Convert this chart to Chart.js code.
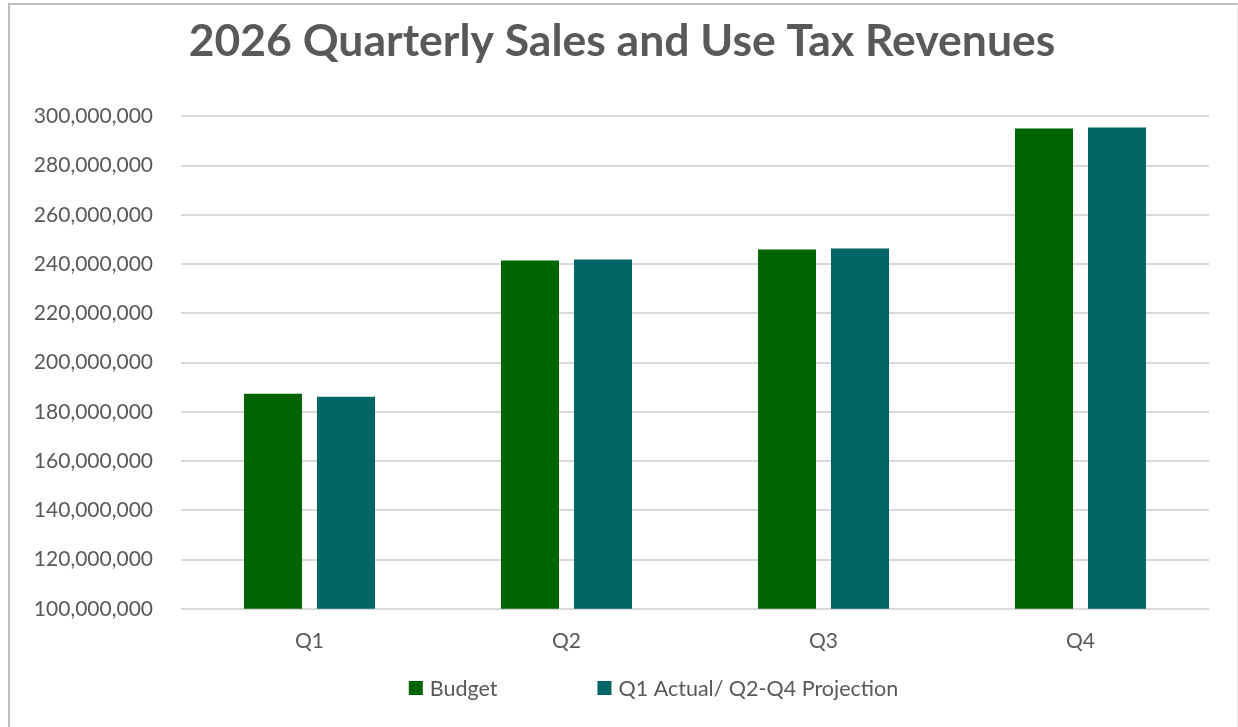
<!DOCTYPE html>
<html lang="en">
  <head>
    <meta charset="UTF-8" />
    <title>2026 Quarterly Sales and Use Tax Revenues</title>
    <script src="https://cdn.jsdelivr.net/npm/chart.js"></script>
    <style>
      body {
        margin: 0;
        background: #ffffff;
        overflow: hidden;
      }

      .chart-box {
        position: absolute;
        left: 8px;
        top: 3px;
        width: 1230px;
        height: 740px;
        border-top: 2px solid #bfbfbf;
        border-left: 2px solid #bfbfbf;
        border-right: 1px solid #ebebeb;
        box-sizing: border-box;
      }

      .chart-container {
        width: 1227px;
        height: 724px;
      }
    </style>
  </head>
  <body>
    <div class="chart-box">
      <div class="chart-container">
        <canvas id="barChart"></canvas>
      </div>
    </div>

    <script>
      const quarters = ["Q1", "Q2", "Q3", "Q4"];
      const budget = [187300000, 241500000, 245900000, 295100000];
      const actualProjection = [186100000, 241900000, 246300000, 295500000];
      const seriesNames = ["Budget", "Q1 Actual/ Q2-Q4 Projection"];

      const textColor = "#595959";
      const fontFamily = "Lato, 'Open Sans', sans-serif";

      // legend drawn by hand so the wide Excel-style gap between entries can be kept
      const spacedLegend = {
        id: "spacedLegend",
        afterDraw(chart) {
          const c = chart.ctx;
          const box = 14;
          const gap = 7;
          const spacing = 100;
          c.save();
          c.font = "21.5px " + fontFamily;
          c.textBaseline = "middle";
          const items = chart.data.datasets.map((ds) => ({
            text: ds.label,
            color: ds.backgroundColor,
            w: c.measureText(ds.label).width,
          }));
          let total = 0;
          items.forEach((it, i) => {
            total += box + gap + it.w + (i > 0 ? spacing : 0);
          });
          let x = chart.width / 2 - total / 2 + 30;
          const y = 683;
          items.forEach((it) => {
            c.fillStyle = it.color;
            c.fillRect(x, y - box / 2, box, box);
            c.fillStyle = textColor;
            c.fillText(it.text, x + box + gap, y + 1);
            x += box + gap + it.w + spacing;
          });
          c.restore();
        },
      };

      const ctx = document.getElementById("barChart").getContext("2d");

      const barChart = new Chart(ctx, {
        type: "bar",
        data: {
          labels: quarters,
          datasets: [
            {
              label: seriesNames[0],
              data: budget,
              backgroundColor: "#006400",
              categoryPercentage: 0.568,
              barPercentage: 0.795,
            },
            {
              label: seriesNames[1],
              data: actualProjection,
              backgroundColor: "#006666",
              categoryPercentage: 0.568,
              barPercentage: 0.795,
            },
          ],
        },
        options: {
          responsive: true,
          maintainAspectRatio: false,
          animation: false,
          layout: {
            padding: { left: 25, right: 28, top: 0, bottom: 55 },
          },
          plugins: {
            title: {
              display: true,
              text: "2026 Quarterly Sales and Use Tax Revenues",
              color: textColor,
              font: { family: fontFamily, size: 44.5, weight: "bold" },
              padding: { top: 10, bottom: 48 },
            },
            legend: { display: false },
            tooltip: { enabled: false },
          },
          scales: {
            x: {
              grid: { display: false, drawTicks: false },
              border: { display: false },
              ticks: {
                color: textColor,
                font: { family: fontFamily, size: 21 },
                padding: 20,
              },
            },
            y: {
              min: 100000000,
              max: 300000000,
              afterFit: (scale) => {
                scale.width = 146;
              },
              grid: {
                color: "#d9d9d9",
                lineWidth: 2,
                drawTicks: false,
              },
              border: { display: false },
              ticks: {
                stepSize: 20000000,
                color: textColor,
                font: { family: fontFamily, size: 21 },
                padding: 28,
                callback: (value) => value.toLocaleString("en-US"),
              },
            },
          },
        },
        plugins: [spacedLegend],
      });
    </script>
  </body>
</html>
